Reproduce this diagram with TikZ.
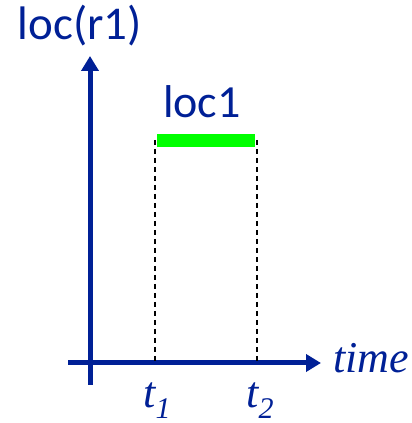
\documentclass[tikz,border=0pt]{standalone}
\usepackage{fontspec}
\setmainfont{Carlito}
\newfontfamily\timesfont{Liberation Serif}
\usetikzlibrary{arrows.meta}
\definecolor{axisblue}{RGB}{0,32,150}
\definecolor{barlime}{RGB}{0,255,0}
\newcommand{\tmark}[1]{{\timesfont\itshape t\raisebox{-0.27em}{\fontsize{30}{32}\selectfont #1}}}

\begin{document}
\begin{tikzpicture}[x=1pt,y=1pt]
\tikzset{axis/.style={axisblue, line width=5pt, -{Triangle[length=15pt,width=17pt]}},
  guide/.style={black, line width=1.8pt, dash pattern=on 5pt off 4pt},
  lbl/.style={axisblue, inner sep=0pt, anchor=base}}
\useasboundingbox (0,0) rectangle (412,423);
% axes
\coordinate (yfoot) at (90,38);
\coordinate (ytip) at (90,367);
\coordinate (xfoot) at (68,60);
\coordinate (xtip) at (321,60);
\draw[axis] (yfoot) -- (ytip);
\draw[axis] (xfoot) -- (xtip);
% interval
\coordinate (t1top) at (155,283);
\coordinate (t1bot) at (155,60);
\coordinate (t2top) at (257,283);
\coordinate (t2bot) at (257,60);
\draw[guide] (t1top) -- (t1bot);
\draw[guide] (t2top) -- (t2bot);
\fill[barlime] (157,276) rectangle (255,289);
% labels
\node[lbl, font=\fontsize{47}{50}\selectfont] (ylabel) at (80,383) {loc(r1)};
\node[lbl, font=\fontsize{46}{50}\selectfont] (barlabel) at (202,305) {loc1};
\node[lbl, anchor=base west, font=\fontsize{44}{48}\selectfont\timesfont\itshape] (xlabel) at (333,50) {time};
\node[lbl, font=\fontsize{44}{48}\selectfont] (t1lbl) at (157,16) {\tmark{1}};
\node[lbl, font=\fontsize{44}{48}\selectfont] (t2lbl) at (260,16) {\tmark{2}};
\end{tikzpicture}
\end{document}
